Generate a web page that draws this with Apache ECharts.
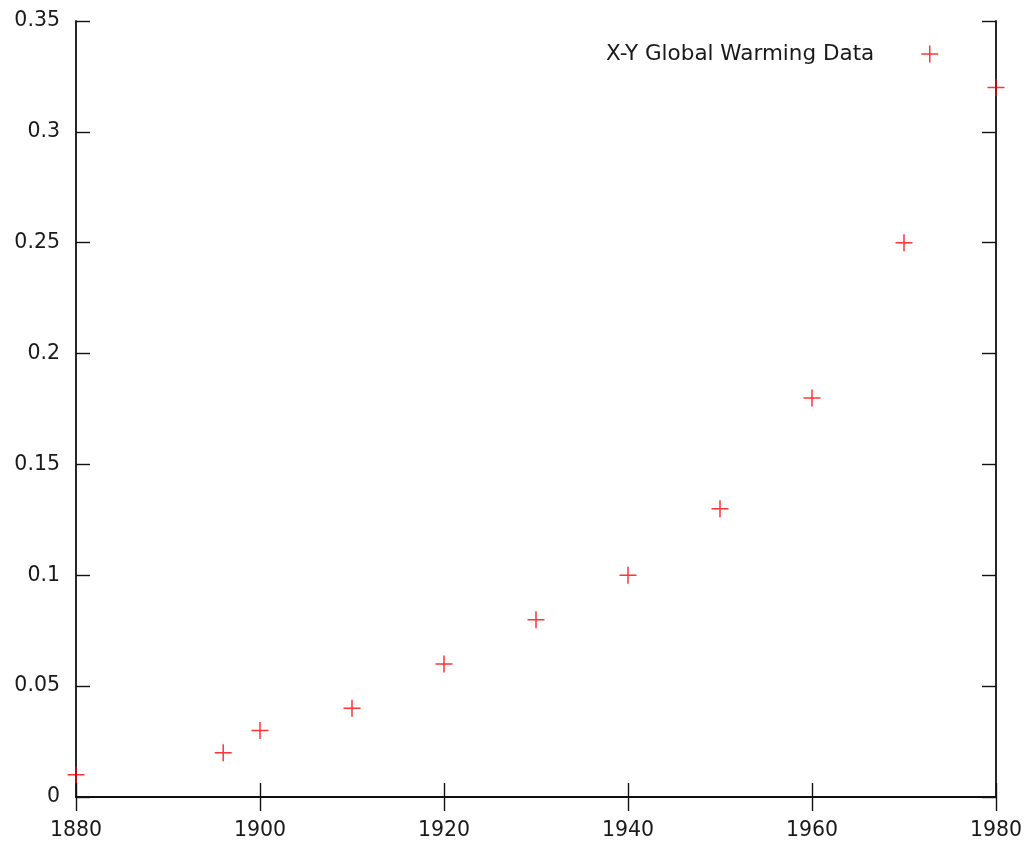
<!DOCTYPE html>
<html>
<head>
<meta charset="utf-8">
<script src="https://cdn.jsdelivr.net/npm/echarts@6/dist/echarts.min.js"></script>
<style>html,body{margin:0;padding:0;background:#fff}#c{width:1028px;height:842px}</style>
</head>
<body>
<div id="c"></div>
<script>
const years = [1880, 1896, 1900, 1910, 1920, 1930, 1940, 1950, 1960, 1970, 1980];
const values = [0.01, 0.02, 0.03, 0.04, 0.06, 0.08, 0.10, 0.13, 0.18, 0.25, 0.32];
const seriesName = 'X-Y Global Warming Data';
const xTicks = [1880, 1900, 1920, 1940, 1960, 1980];
const yTicks = [0, 0.05, 0.1, 0.15, 0.2, 0.25, 0.3, 0.35];

const FONT = 'DejaVu Sans';
const plus = 'path://M0,-1L0,1M-1,0L1,0';
const chart = echarts.init(document.getElementById('c'), null, {renderer: 'canvas'});
const axisLine = {show: true, lineStyle: {color: '#111', width: 1.8}};
const tick = {show: true, inside: true, length: 14, lineStyle: {color: '#111', width: 1.4}};
const xBase = {type: 'value', min: 1880, max: 1980, interval: 20, splitLine: {show: false}, axisLine, axisTick: tick};
const yBase = {type: 'value', min: 0, max: 0.35, interval: 0.05, splitLine: {show: false}, axisLine, axisTick: tick};
chart.setOption({
  animation: false,
  backgroundColor: '#fff',
  grid: {left: 76, right: 32, top: 21, bottom: 45, containLabel: false},
  legend: {
    data: [{name: seriesName, icon: plus}],
    right: 84, top: 38, align: 'right', itemWidth: 17, itemHeight: 17,
    itemStyle: {color: 'transparent', borderColor: '#ff0000', borderWidth: 1.5},
    textStyle: {fontFamily: FONT, fontSize: 21.5, color: '#1a1a1a', padding: [0, 42, 0, 0]}
  },
  xAxis: [
    Object.assign({}, xBase, {position: 'bottom', axisLabel: {fontFamily: FONT, fontSize: 20.5, color: '#1a1a1a', margin: 23,
      formatter: v => String(v)}}),
    Object.assign({}, xBase, {position: 'top', axisLabel: {show: false}})
  ],
  yAxis: [
    Object.assign({}, yBase, {position: 'left', axisLabel: {fontFamily: FONT, fontSize: 20.5, color: '#1a1a1a', margin: 16,
      formatter: v => String(parseFloat(v.toFixed(2)))}}),
    Object.assign({}, yBase, {position: 'right', axisLabel: {show: false}})
  ],
  series: [{
    name: seriesName,
    type: 'scatter',
    symbol: plus,
    symbolSize: 17,
    itemStyle: {color: 'transparent', borderColor: '#ff0000', borderWidth: 1.5},
    data: years.map((y, i) => [y, values[i]]),
    clip: false
  }]
});
</script>
</body>
</html>
